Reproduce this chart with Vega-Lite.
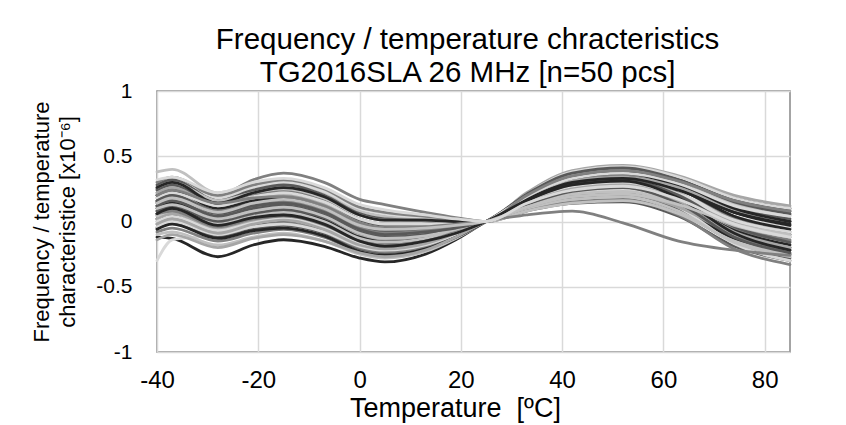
{
"$schema": "https://vega.github.io/schema/vega-lite/v6.json",
"autosize": {"type": "none"},
"width": 633, "height": 261,
"padding": {"left": 157, "top": 91, "right": 56, "bottom": 73},
"background": "white",
"title": {"text": ["Frequency / temperature chracteristics", "TG2016SLA 26 MHz [n=50 pcs]"], "font": "Liberation Sans", "fontSize": 29.5, "fontWeight": "normal", "color": "#000000", "lineHeight": 33, "anchor": "middle", "offset": -8, "dx": -6},
"config": {"view": {"stroke": "#868686", "strokeWidth": 1.5}, "font": "Liberation Sans"},
"datasets": {"curves": [
{"c":1,"t":-40,"v":-0.12},{"c":1,"t":-37,"v":-0.13},{"c":1,"t":-28,"v":-0.27},{"c":1,"t":-21,"v":-0.18},{"c":1,"t":-15,"v":-0.14},{"c":1,"t":-7,"v":-0.19},{"c":1,"t":0,"v":-0.28},{"c":1,"t":5,"v":-0.31},{"c":1,"t":13,"v":-0.25},{"c":1,"t":19,"v":-0.14},{"c":1,"t":25,"v":0},{"c":1,"t":33,"v":0.15},{"c":1,"t":42,"v":0.27},{"c":1,"t":52,"v":0.30},{"c":1,"t":63,"v":0.20},{"c":1,"t":74,"v":0.00},{"c":1,"t":85,"v":-0.10},
{"c":2,"t":-40,"v":0.25},{"c":2,"t":-37,"v":0.28},{"c":2,"t":-28,"v":0.20},{"c":2,"t":-21,"v":0.32},{"c":2,"t":-15,"v":0.37},{"c":2,"t":-7,"v":0.30},{"c":2,"t":0,"v":0.17},{"c":2,"t":5,"v":0.13},{"c":2,"t":13,"v":0.07},{"c":2,"t":19,"v":0.03},{"c":2,"t":25,"v":0},{"c":2,"t":33,"v":0.11},{"c":2,"t":42,"v":0.20},{"c":2,"t":52,"v":0.22},{"c":2,"t":63,"v":0.13},{"c":2,"t":74,"v":-0.06},{"c":2,"t":85,"v":-0.15},
{"c":3,"t":-40,"v":0.38},{"c":3,"t":-37,"v":0.40},{"c":3,"t":-28,"v":0.22},{"c":3,"t":-21,"v":0.28},{"c":3,"t":-15,"v":0.30},{"c":3,"t":-7,"v":0.22},{"c":3,"t":0,"v":0.08},{"c":3,"t":5,"v":0.04},{"c":3,"t":13,"v":0.02},{"c":3,"t":19,"v":0.01},{"c":3,"t":25,"v":0},{"c":3,"t":33,"v":0.18},{"c":3,"t":42,"v":0.32},{"c":3,"t":52,"v":0.35},{"c":3,"t":63,"v":0.28},{"c":3,"t":74,"v":0.13},{"c":3,"t":85,"v":0.05},
{"c":4,"t":-40,"v":-0.30},{"c":4,"t":-37,"v":-0.14},{"c":4,"t":-28,"v":-0.10},{"c":4,"t":-21,"v":-0.02},{"c":4,"t":-15,"v":0.02},{"c":4,"t":-7,"v":-0.04},{"c":4,"t":0,"v":-0.15},{"c":4,"t":5,"v":-0.18},{"c":4,"t":13,"v":-0.15},{"c":4,"t":19,"v":-0.08},{"c":4,"t":25,"v":0},{"c":4,"t":33,"v":0.09},{"c":4,"t":42,"v":0.16},{"c":4,"t":52,"v":0.18},{"c":4,"t":63,"v":0.07},{"c":4,"t":74,"v":-0.14},{"c":4,"t":85,"v":-0.25},
{"c":5,"t":-40,"v":0.12},{"c":5,"t":-37,"v":0.18},{"c":5,"t":-28,"v":0.05},{"c":5,"t":-21,"v":0.14},{"c":5,"t":-15,"v":0.18},{"c":5,"t":-7,"v":0.10},{"c":5,"t":0,"v":-0.04},{"c":5,"t":5,"v":-0.08},{"c":5,"t":13,"v":-0.06},{"c":5,"t":19,"v":-0.04},{"c":5,"t":25,"v":0},{"c":5,"t":33,"v":0.21},{"c":5,"t":42,"v":0.38},{"c":5,"t":52,"v":0.42},{"c":5,"t":63,"v":0.34},{"c":5,"t":74,"v":0.17},{"c":5,"t":85,"v":0.08},
{"c":6,"t":-40,"v":0.05},{"c":6,"t":-37,"v":0.10},{"c":6,"t":-28,"v":-0.02},{"c":6,"t":-21,"v":0.06},{"c":6,"t":-15,"v":0.10},{"c":6,"t":-7,"v":0.03},{"c":6,"t":0,"v":-0.10},{"c":6,"t":5,"v":-0.14},{"c":6,"t":13,"v":-0.11},{"c":6,"t":19,"v":-0.06},{"c":6,"t":25,"v":0},{"c":6,"t":33,"v":0.19},{"c":6,"t":42,"v":0.34},{"c":6,"t":52,"v":0.38},{"c":6,"t":63,"v":0.29},{"c":6,"t":74,"v":0.10},{"c":6,"t":85,"v":0.00},
{"c":7,"t":-40,"v":0.20},{"c":7,"t":-37,"v":0.25},{"c":7,"t":-28,"v":0.12},{"c":7,"t":-21,"v":0.20},{"c":7,"t":-15,"v":0.24},{"c":7,"t":-7,"v":0.16},{"c":7,"t":0,"v":0.02},{"c":7,"t":5,"v":-0.02},{"c":7,"t":13,"v":-0.02},{"c":7,"t":19,"v":-0.01},{"c":7,"t":25,"v":0},{"c":7,"t":33,"v":0.14},{"c":7,"t":42,"v":0.25},{"c":7,"t":52,"v":0.28},{"c":7,"t":63,"v":0.20},{"c":7,"t":74,"v":0.03},{"c":7,"t":85,"v":-0.05},
{"c":8,"t":-40,"v":0.00},{"c":8,"t":-37,"v":0.05},{"c":8,"t":-28,"v":-0.08},{"c":8,"t":-21,"v":0.00},{"c":8,"t":-15,"v":0.03},{"c":8,"t":-7,"v":-0.04},{"c":8,"t":0,"v":-0.17},{"c":8,"t":5,"v":-0.20},{"c":8,"t":13,"v":-0.16},{"c":8,"t":19,"v":-0.09},{"c":8,"t":25,"v":0},{"c":8,"t":33,"v":0.17},{"c":8,"t":42,"v":0.30},{"c":8,"t":52,"v":0.33},{"c":8,"t":63,"v":0.22},{"c":8,"t":74,"v":-0.01},{"c":8,"t":85,"v":-0.12},
{"c":9,"t":-40,"v":0.15},{"c":9,"t":-37,"v":0.20},{"c":9,"t":-28,"v":0.08},{"c":9,"t":-21,"v":0.12},{"c":9,"t":-15,"v":0.14},{"c":9,"t":-7,"v":0.07},{"c":9,"t":0,"v":-0.06},{"c":9,"t":5,"v":-0.10},{"c":9,"t":13,"v":-0.08},{"c":9,"t":19,"v":-0.05},{"c":9,"t":25,"v":0},{"c":9,"t":33,"v":0.20},{"c":9,"t":42,"v":0.36},{"c":9,"t":52,"v":0.40},{"c":9,"t":63,"v":0.33},{"c":9,"t":74,"v":0.18},{"c":9,"t":85,"v":0.10},
{"c":10,"t":-40,"v":0.22},{"c":10,"t":-37,"v":0.26},{"c":10,"t":-28,"v":0.14},{"c":10,"t":-21,"v":0.22},{"c":10,"t":-15,"v":0.26},{"c":10,"t":-7,"v":0.18},{"c":10,"t":0,"v":0.05},{"c":10,"t":5,"v":0.01},{"c":10,"t":13,"v":0.01},{"c":10,"t":19,"v":0.00},{"c":10,"t":25,"v":0},{"c":10,"t":33,"v":0.13},{"c":10,"t":42,"v":0.23},{"c":10,"t":52,"v":0.25},{"c":10,"t":63,"v":0.14},{"c":10,"t":74,"v":-0.09},{"c":10,"t":85,"v":-0.20},
{"c":11,"t":-40,"v":-0.05},{"c":11,"t":-37,"v":0.00},{"c":11,"t":-28,"v":-0.12},{"c":11,"t":-21,"v":-0.06},{"c":11,"t":-15,"v":-0.03},{"c":11,"t":-7,"v":-0.09},{"c":11,"t":0,"v":-0.21},{"c":11,"t":5,"v":-0.24},{"c":11,"t":13,"v":-0.19},{"c":11,"t":19,"v":-0.11},{"c":11,"t":25,"v":0},{"c":11,"t":33,"v":0.10},{"c":11,"t":42,"v":0.18},{"c":11,"t":52,"v":0.20},{"c":11,"t":63,"v":0.08},{"c":11,"t":74,"v":-0.16},{"c":11,"t":85,"v":-0.28},
{"c":12,"t":-40,"v":0.25},{"c":12,"t":-37,"v":0.30},{"c":12,"t":-28,"v":0.18},{"c":12,"t":-21,"v":0.26},{"c":12,"t":-15,"v":0.30},{"c":12,"t":-7,"v":0.23},{"c":12,"t":0,"v":0.10},{"c":12,"t":5,"v":0.06},{"c":12,"t":13,"v":0.03},{"c":12,"t":19,"v":0.02},{"c":12,"t":25,"v":0},{"c":12,"t":33,"v":0.15},{"c":12,"t":42,"v":0.27},{"c":12,"t":52,"v":0.30},{"c":12,"t":63,"v":0.21},{"c":12,"t":74,"v":0.04},{"c":12,"t":85,"v":-0.05},
{"c":13,"t":-40,"v":0.08},{"c":13,"t":-37,"v":0.12},{"c":13,"t":-28,"v":0.00},{"c":13,"t":-21,"v":0.06},{"c":13,"t":-15,"v":0.08},{"c":13,"t":-7,"v":0.01},{"c":13,"t":0,"v":-0.12},{"c":13,"t":5,"v":-0.15},{"c":13,"t":13,"v":-0.12},{"c":13,"t":19,"v":-0.07},{"c":13,"t":25,"v":0},{"c":13,"t":33,"v":0.18},{"c":13,"t":42,"v":0.32},{"c":13,"t":52,"v":0.36},{"c":13,"t":63,"v":0.25},{"c":13,"t":74,"v":0.03},{"c":13,"t":85,"v":-0.08},
{"c":14,"t":-40,"v":0.02},{"c":14,"t":-37,"v":0.05},{"c":14,"t":-28,"v":-0.06},{"c":14,"t":-21,"v":-0.02},{"c":14,"t":-15,"v":0.00},{"c":14,"t":-7,"v":-0.07},{"c":14,"t":0,"v":-0.19},{"c":14,"t":5,"v":-0.22},{"c":14,"t":13,"v":-0.18},{"c":14,"t":19,"v":-0.10},{"c":14,"t":25,"v":0},{"c":14,"t":33,"v":0.13},{"c":14,"t":42,"v":0.23},{"c":14,"t":52,"v":0.26},{"c":14,"t":63,"v":0.15},{"c":14,"t":74,"v":-0.07},{"c":14,"t":85,"v":-0.18},
{"c":15,"t":-40,"v":0.18},{"c":15,"t":-37,"v":0.22},{"c":15,"t":-28,"v":0.10},{"c":15,"t":-21,"v":0.17},{"c":15,"t":-15,"v":0.20},{"c":15,"t":-7,"v":0.13},{"c":15,"t":0,"v":0.00},{"c":15,"t":5,"v":-0.04},{"c":15,"t":13,"v":-0.03},{"c":15,"t":19,"v":-0.02},{"c":15,"t":25,"v":0},{"c":15,"t":33,"v":0.22},{"c":15,"t":42,"v":0.39},{"c":15,"t":52,"v":0.43},{"c":15,"t":63,"v":0.35},{"c":15,"t":74,"v":0.20},{"c":15,"t":85,"v":0.12},
{"c":16,"t":-40,"v":0.28},{"c":16,"t":-37,"v":0.32},{"c":16,"t":-28,"v":0.16},{"c":16,"t":-21,"v":0.24},{"c":16,"t":-15,"v":0.28},{"c":16,"t":-7,"v":0.20},{"c":16,"t":0,"v":0.06},{"c":16,"t":5,"v":0.02},{"c":16,"t":13,"v":0.01},{"c":16,"t":19,"v":0.01},{"c":16,"t":25,"v":0},{"c":16,"t":33,"v":0.08},{"c":16,"t":42,"v":0.14},{"c":16,"t":52,"v":0.15},{"c":16,"t":63,"v":0.04},{"c":16,"t":74,"v":-0.19},{"c":16,"t":85,"v":-0.30},
{"c":17,"t":-40,"v":-0.08},{"c":17,"t":-37,"v":-0.05},{"c":17,"t":-28,"v":-0.15},{"c":17,"t":-21,"v":-0.09},{"c":17,"t":-15,"v":-0.06},{"c":17,"t":-7,"v":-0.12},{"c":17,"t":0,"v":-0.23},{"c":17,"t":5,"v":-0.26},{"c":17,"t":13,"v":-0.21},{"c":17,"t":19,"v":-0.12},{"c":17,"t":25,"v":0},{"c":17,"t":33,"v":0.12},{"c":17,"t":42,"v":0.22},{"c":17,"t":52,"v":0.24},{"c":17,"t":63,"v":0.13},{"c":17,"t":74,"v":-0.11},{"c":17,"t":85,"v":-0.22},
{"c":18,"t":-40,"v":0.10},{"c":18,"t":-37,"v":0.15},{"c":18,"t":-28,"v":0.04},{"c":18,"t":-21,"v":0.10},{"c":18,"t":-15,"v":0.12},{"c":18,"t":-7,"v":0.05},{"c":18,"t":0,"v":-0.08},{"c":18,"t":5,"v":-0.11},{"c":18,"t":13,"v":-0.09},{"c":18,"t":19,"v":-0.05},{"c":18,"t":25,"v":0},{"c":18,"t":33,"v":0.20},{"c":18,"t":42,"v":0.36},{"c":18,"t":52,"v":0.40},{"c":18,"t":63,"v":0.31},{"c":18,"t":74,"v":0.14},{"c":18,"t":85,"v":0.05},
{"c":19,"t":-40,"v":0.06},{"c":19,"t":-37,"v":0.10},{"c":19,"t":-28,"v":-0.02},{"c":19,"t":-21,"v":0.04},{"c":19,"t":-15,"v":0.06},{"c":19,"t":-7,"v":-0.01},{"c":19,"t":0,"v":-0.14},{"c":19,"t":5,"v":-0.17},{"c":19,"t":13,"v":-0.14},{"c":19,"t":19,"v":-0.08},{"c":19,"t":25,"v":0},{"c":19,"t":33,"v":0.11},{"c":19,"t":42,"v":0.20},{"c":19,"t":52,"v":0.22},{"c":19,"t":63,"v":0.10},{"c":19,"t":74,"v":-0.13},{"c":19,"t":85,"v":-0.25},
{"c":20,"t":-40,"v":0.14},{"c":20,"t":-37,"v":0.18},{"c":20,"t":-28,"v":0.06},{"c":20,"t":-21,"v":0.13},{"c":20,"t":-15,"v":0.16},{"c":20,"t":-7,"v":0.09},{"c":20,"t":0,"v":-0.04},{"c":20,"t":5,"v":-0.07},{"c":20,"t":13,"v":-0.06},{"c":20,"t":19,"v":-0.03},{"c":20,"t":25,"v":0},{"c":20,"t":33,"v":0.17},{"c":20,"t":42,"v":0.31},{"c":20,"t":52,"v":0.34},{"c":20,"t":63,"v":0.25},{"c":20,"t":74,"v":0.07},{"c":20,"t":85,"v":-0.02},
{"c":21,"t":-40,"v":0.24},{"c":21,"t":-37,"v":0.28},{"c":21,"t":-28,"v":0.12},{"c":21,"t":-21,"v":0.19},{"c":21,"t":-15,"v":0.22},{"c":21,"t":-7,"v":0.15},{"c":21,"t":0,"v":0.01},{"c":21,"t":5,"v":-0.03},{"c":21,"t":13,"v":-0.02},{"c":21,"t":19,"v":-0.01},{"c":21,"t":25,"v":0},{"c":21,"t":33,"v":0.19},{"c":21,"t":42,"v":0.34},{"c":21,"t":52,"v":0.38},{"c":21,"t":63,"v":0.29},{"c":21,"t":74,"v":0.11},{"c":21,"t":85,"v":0.02},
{"c":22,"t":-40,"v":-0.02},{"c":22,"t":-37,"v":0.03},{"c":22,"t":-28,"v":-0.10},{"c":22,"t":-21,"v":-0.04},{"c":22,"t":-15,"v":-0.01},{"c":22,"t":-7,"v":-0.08},{"c":22,"t":0,"v":-0.20},{"c":22,"t":5,"v":-0.23},{"c":22,"t":13,"v":-0.19},{"c":22,"t":19,"v":-0.10},{"c":22,"t":25,"v":0},{"c":22,"t":33,"v":0.09},{"c":22,"t":42,"v":0.15},{"c":22,"t":52,"v":0.17},{"c":22,"t":63,"v":0.05},{"c":22,"t":74,"v":-0.21},{"c":22,"t":85,"v":-0.33},
{"c":23,"t":-40,"v":0.12},{"c":23,"t":-37,"v":0.16},{"c":23,"t":-28,"v":0.04},{"c":23,"t":-21,"v":0.08},{"c":23,"t":-15,"v":0.10},{"c":23,"t":-7,"v":0.03},{"c":23,"t":0,"v":-0.10},{"c":23,"t":5,"v":-0.13},{"c":23,"t":13,"v":-0.11},{"c":23,"t":19,"v":-0.06},{"c":23,"t":25,"v":0},{"c":23,"t":33,"v":0.14},{"c":23,"t":42,"v":0.25},{"c":23,"t":52,"v":0.28},{"c":23,"t":63,"v":0.19},{"c":23,"t":74,"v":0.00},{"c":23,"t":85,"v":-0.10},
{"c":24,"t":-40,"v":0.20},{"c":24,"t":-37,"v":0.24},{"c":24,"t":-28,"v":0.10},{"c":24,"t":-21,"v":0.16},{"c":24,"t":-15,"v":0.18},{"c":24,"t":-7,"v":0.11},{"c":24,"t":0,"v":-0.02},{"c":24,"t":5,"v":-0.06},{"c":24,"t":13,"v":-0.05},{"c":24,"t":19,"v":-0.03},{"c":24,"t":25,"v":0},{"c":24,"t":33,"v":0.18},{"c":24,"t":42,"v":0.32},{"c":24,"t":52,"v":0.35},{"c":24,"t":63,"v":0.25},{"c":24,"t":74,"v":0.04},{"c":24,"t":85,"v":-0.06},
{"c":25,"t":-40,"v":-0.10},{"c":25,"t":-37,"v":-0.08},{"c":25,"t":-28,"v":-0.18},{"c":25,"t":-21,"v":-0.12},{"c":25,"t":-15,"v":-0.09},{"c":25,"t":-7,"v":-0.15},{"c":25,"t":0,"v":-0.25},{"c":25,"t":5,"v":-0.28},{"c":25,"t":13,"v":-0.23},{"c":25,"t":19,"v":-0.13},{"c":25,"t":25,"v":0},{"c":25,"t":33,"v":0.16},{"c":25,"t":42,"v":0.29},{"c":25,"t":52,"v":0.32},{"c":25,"t":63,"v":0.20},{"c":25,"t":74,"v":-0.03},{"c":25,"t":85,"v":-0.15},
{"c":26,"t":-40,"v":0.05},{"c":26,"t":-37,"v":0.08},{"c":26,"t":-28,"v":-0.04},{"c":26,"t":-21,"v":0.02},{"c":26,"t":-15,"v":0.05},{"c":26,"t":-7,"v":-0.02},{"c":26,"t":0,"v":-0.15},{"c":26,"t":5,"v":-0.18},{"c":26,"t":13,"v":-0.15},{"c":26,"t":19,"v":-0.08},{"c":26,"t":25,"v":0},{"c":26,"t":33,"v":0.21},{"c":26,"t":42,"v":0.38},{"c":26,"t":52,"v":0.42},{"c":26,"t":63,"v":0.34},{"c":26,"t":74,"v":0.18},{"c":26,"t":85,"v":0.10},
{"c":27,"t":-40,"v":0.16},{"c":27,"t":-37,"v":0.20},{"c":27,"t":-28,"v":0.08},{"c":27,"t":-21,"v":0.14},{"c":27,"t":-15,"v":0.16},{"c":27,"t":-7,"v":0.09},{"c":27,"t":0,"v":-0.04},{"c":27,"t":5,"v":-0.08},{"c":27,"t":13,"v":-0.06},{"c":27,"t":19,"v":-0.04},{"c":27,"t":25,"v":0},{"c":27,"t":33,"v":0.10},{"c":27,"t":42,"v":0.18},{"c":27,"t":52,"v":0.20},{"c":27,"t":63,"v":0.10},{"c":27,"t":74,"v":-0.10},{"c":27,"t":85,"v":-0.20},
{"c":28,"t":-40,"v":0.30},{"c":28,"t":-37,"v":0.34},{"c":28,"t":-28,"v":0.20},{"c":28,"t":-21,"v":0.28},{"c":28,"t":-15,"v":0.32},{"c":28,"t":-7,"v":0.25},{"c":28,"t":0,"v":0.11},{"c":28,"t":5,"v":0.07},{"c":28,"t":13,"v":0.04},{"c":28,"t":19,"v":0.02},{"c":28,"t":25,"v":0},{"c":28,"t":33,"v":0.18},{"c":28,"t":42,"v":0.32},{"c":28,"t":52,"v":0.36},{"c":28,"t":63,"v":0.27},{"c":28,"t":74,"v":0.09},{"c":28,"t":85,"v":0.00},
{"c":29,"t":-40,"v":0.02},{"c":29,"t":-37,"v":0.06},{"c":29,"t":-28,"v":-0.06},{"c":29,"t":-21,"v":0.01},{"c":29,"t":-15,"v":0.04},{"c":29,"t":-7,"v":-0.03},{"c":29,"t":0,"v":-0.16},{"c":29,"t":5,"v":-0.19},{"c":29,"t":13,"v":-0.15},{"c":29,"t":19,"v":-0.09},{"c":29,"t":25,"v":0},{"c":29,"t":33,"v":0.15},{"c":29,"t":42,"v":0.27},{"c":29,"t":52,"v":0.30},{"c":29,"t":63,"v":0.20},{"c":29,"t":74,"v":-0.02},{"c":29,"t":85,"v":-0.12},
{"c":30,"t":-40,"v":0.10},{"c":30,"t":-37,"v":0.14},{"c":30,"t":-28,"v":0.02},{"c":30,"t":-21,"v":0.06},{"c":30,"t":-15,"v":0.08},{"c":30,"t":-7,"v":0.01},{"c":30,"t":0,"v":-0.12},{"c":30,"t":5,"v":-0.16},{"c":30,"t":13,"v":-0.13},{"c":30,"t":19,"v":-0.07},{"c":30,"t":25,"v":0},{"c":30,"t":33,"v":0.19},{"c":30,"t":42,"v":0.33},{"c":30,"t":52,"v":0.37},{"c":30,"t":63,"v":0.27},{"c":30,"t":74,"v":0.07},{"c":30,"t":85,"v":-0.03},
{"c":31,"t":-40,"v":0.26},{"c":31,"t":-37,"v":0.30},{"c":31,"t":-28,"v":0.16},{"c":31,"t":-21,"v":0.22},{"c":31,"t":-15,"v":0.25},{"c":31,"t":-7,"v":0.18},{"c":31,"t":0,"v":0.05},{"c":31,"t":5,"v":0.01},{"c":31,"t":13,"v":0.01},{"c":31,"t":19,"v":0.00},{"c":31,"t":25,"v":0},{"c":31,"t":33,"v":0.08},{"c":31,"t":42,"v":0.14},{"c":31,"t":52,"v":0.16},{"c":31,"t":63,"v":0.06},{"c":31,"t":74,"v":-0.15},{"c":31,"t":85,"v":-0.25},
{"c":32,"t":-40,"v":-0.04},{"c":32,"t":-37,"v":0.00},{"c":32,"t":-28,"v":-0.10},{"c":32,"t":-21,"v":-0.04},{"c":32,"t":-15,"v":-0.02},{"c":32,"t":-7,"v":-0.08},{"c":32,"t":0,"v":-0.19},{"c":32,"t":5,"v":-0.22},{"c":32,"t":13,"v":-0.18},{"c":32,"t":19,"v":-0.10},{"c":32,"t":25,"v":0},{"c":32,"t":33,"v":0.12},{"c":32,"t":42,"v":0.22},{"c":32,"t":52,"v":0.24},{"c":32,"t":63,"v":0.11},{"c":32,"t":74,"v":-0.17},{"c":32,"t":85,"v":-0.30},
{"c":33,"t":-40,"v":0.08},{"c":33,"t":-37,"v":0.12},{"c":33,"t":-28,"v":0.00},{"c":33,"t":-21,"v":0.06},{"c":33,"t":-15,"v":0.09},{"c":33,"t":-7,"v":0.03},{"c":33,"t":0,"v":-0.09},{"c":33,"t":5,"v":-0.12},{"c":33,"t":13,"v":-0.10},{"c":33,"t":19,"v":-0.05},{"c":33,"t":25,"v":0},{"c":33,"t":33,"v":0.21},{"c":33,"t":42,"v":0.37},{"c":33,"t":52,"v":0.41},{"c":33,"t":63,"v":0.32},{"c":33,"t":74,"v":0.15},{"c":33,"t":85,"v":0.06},
{"c":34,"t":-40,"v":0.14},{"c":34,"t":-37,"v":0.18},{"c":34,"t":-28,"v":0.08},{"c":34,"t":-21,"v":0.13},{"c":34,"t":-15,"v":0.15},{"c":34,"t":-7,"v":0.08},{"c":34,"t":0,"v":-0.05},{"c":34,"t":5,"v":-0.09},{"c":34,"t":13,"v":-0.07},{"c":34,"t":19,"v":-0.04},{"c":34,"t":25,"v":0},{"c":34,"t":33,"v":0.14},{"c":34,"t":42,"v":0.24},{"c":34,"t":52,"v":0.27},{"c":34,"t":63,"v":0.17},{"c":34,"t":74,"v":-0.04},{"c":34,"t":85,"v":-0.14},
{"c":35,"t":-40,"v":0.22},{"c":35,"t":-37,"v":0.26},{"c":35,"t":-28,"v":0.12},{"c":35,"t":-21,"v":0.18},{"c":35,"t":-15,"v":0.20},{"c":35,"t":-7,"v":0.13},{"c":35,"t":0,"v":-0.01},{"c":35,"t":5,"v":-0.05},{"c":35,"t":13,"v":-0.04},{"c":35,"t":19,"v":-0.02},{"c":35,"t":25,"v":0},{"c":35,"t":33,"v":0.17},{"c":35,"t":42,"v":0.31},{"c":35,"t":52,"v":0.34},{"c":35,"t":63,"v":0.26},{"c":35,"t":74,"v":0.09},{"c":35,"t":85,"v":0.00},
{"c":36,"t":-40,"v":-0.06},{"c":36,"t":-37,"v":-0.02},{"c":36,"t":-28,"v":-0.13},{"c":36,"t":-21,"v":-0.07},{"c":36,"t":-15,"v":-0.05},{"c":36,"t":-7,"v":-0.11},{"c":36,"t":0,"v":-0.23},{"c":36,"t":5,"v":-0.26},{"c":36,"t":13,"v":-0.21},{"c":36,"t":19,"v":-0.12},{"c":36,"t":25,"v":0},{"c":36,"t":33,"v":0.19},{"c":36,"t":42,"v":0.34},{"c":36,"t":52,"v":0.38},{"c":36,"t":63,"v":0.29},{"c":36,"t":74,"v":0.10},{"c":36,"t":85,"v":0.00},
{"c":37,"t":-40,"v":0.04},{"c":37,"t":-37,"v":0.08},{"c":37,"t":-28,"v":-0.02},{"c":37,"t":-21,"v":0.04},{"c":37,"t":-15,"v":0.07},{"c":37,"t":-7,"v":0.00},{"c":37,"t":0,"v":-0.13},{"c":37,"t":5,"v":-0.16},{"c":37,"t":13,"v":-0.13},{"c":37,"t":19,"v":-0.07},{"c":37,"t":25,"v":0},{"c":37,"t":33,"v":0.10},{"c":37,"t":42,"v":0.17},{"c":37,"t":52,"v":0.19},{"c":37,"t":63,"v":0.08},{"c":37,"t":74,"v":-0.16},{"c":37,"t":85,"v":-0.27},
{"c":38,"t":-40,"v":0.18},{"c":38,"t":-37,"v":0.22},{"c":38,"t":-28,"v":0.12},{"c":38,"t":-21,"v":0.19},{"c":38,"t":-15,"v":0.22},{"c":38,"t":-7,"v":0.15},{"c":38,"t":0,"v":0.02},{"c":38,"t":5,"v":-0.02},{"c":38,"t":13,"v":-0.02},{"c":38,"t":19,"v":-0.01},{"c":38,"t":25,"v":0},{"c":38,"t":33,"v":0.15},{"c":38,"t":42,"v":0.26},{"c":38,"t":52,"v":0.29},{"c":38,"t":63,"v":0.20},{"c":38,"t":74,"v":0.01},{"c":38,"t":85,"v":-0.08},
{"c":39,"t":-40,"v":0.12},{"c":39,"t":-37,"v":0.16},{"c":39,"t":-28,"v":0.04},{"c":39,"t":-21,"v":0.10},{"c":39,"t":-15,"v":0.12},{"c":39,"t":-7,"v":0.05},{"c":39,"t":0,"v":-0.08},{"c":39,"t":5,"v":-0.12},{"c":39,"t":13,"v":-0.10},{"c":39,"t":19,"v":-0.05},{"c":39,"t":25,"v":0},{"c":39,"t":33,"v":0.16},{"c":39,"t":42,"v":0.29},{"c":39,"t":52,"v":0.32},{"c":39,"t":63,"v":0.20},{"c":39,"t":74,"v":-0.04},{"c":39,"t":85,"v":-0.16},
{"c":40,"t":-40,"v":0.06},{"c":40,"t":-37,"v":0.08},{"c":40,"t":-28,"v":-0.04},{"c":40,"t":-21,"v":0.02},{"c":40,"t":-15,"v":0.04},{"c":40,"t":-7,"v":-0.03},{"c":40,"t":0,"v":-0.15},{"c":40,"t":5,"v":-0.18},{"c":40,"t":13,"v":-0.15},{"c":40,"t":19,"v":-0.08},{"c":40,"t":25,"v":0},{"c":40,"t":33,"v":0.05},{"c":40,"t":42,"v":0.08},{"c":40,"t":52,"v":-0.01},{"c":40,"t":63,"v":-0.15},{"c":40,"t":74,"v":-0.22},{"c":40,"t":85,"v":-0.26},
{"c":41,"t":-40,"v":-0.14},{"c":41,"t":-37,"v":-0.10},{"c":41,"t":-28,"v":-0.20},{"c":41,"t":-21,"v":-0.13},{"c":41,"t":-15,"v":-0.10},{"c":41,"t":-7,"v":-0.15},{"c":41,"t":0,"v":-0.24},{"c":41,"t":5,"v":-0.27},{"c":41,"t":13,"v":-0.22},{"c":41,"t":19,"v":-0.12},{"c":41,"t":25,"v":0},{"c":41,"t":33,"v":0.11},{"c":41,"t":42,"v":0.19},{"c":41,"t":52,"v":0.21},{"c":41,"t":63,"v":0.11},{"c":41,"t":74,"v":-0.10},{"c":41,"t":85,"v":-0.20},
{"c":42,"t":-40,"v":0.26},{"c":42,"t":-37,"v":0.30},{"c":42,"t":-28,"v":0.14},{"c":42,"t":-21,"v":0.22},{"c":42,"t":-15,"v":0.26},{"c":42,"t":-7,"v":0.19},{"c":42,"t":0,"v":0.05},{"c":42,"t":5,"v":0.01},{"c":42,"t":13,"v":0.01},{"c":42,"t":19,"v":0.00},{"c":42,"t":25,"v":0},{"c":42,"t":33,"v":0.17},{"c":42,"t":42,"v":0.30},{"c":42,"t":52,"v":0.33},{"c":42,"t":63,"v":0.24},{"c":42,"t":74,"v":0.07},{"c":42,"t":85,"v":-0.02},
{"c":43,"t":-40,"v":0.10},{"c":43,"t":-37,"v":0.13},{"c":43,"t":-28,"v":0.02},{"c":43,"t":-21,"v":0.08},{"c":43,"t":-15,"v":0.11},{"c":43,"t":-7,"v":0.04},{"c":43,"t":0,"v":-0.09},{"c":43,"t":5,"v":-0.13},{"c":43,"t":13,"v":-0.11},{"c":43,"t":19,"v":-0.06},{"c":43,"t":25,"v":0},{"c":43,"t":33,"v":0.12},{"c":43,"t":42,"v":0.21},{"c":43,"t":52,"v":0.23},{"c":43,"t":63,"v":0.14},{"c":43,"t":74,"v":-0.03},{"c":43,"t":85,"v":-0.12},
{"c":44,"t":-40,"v":0.00},{"c":44,"t":-37,"v":0.04},{"c":44,"t":-28,"v":-0.07},{"c":44,"t":-21,"v":-0.01},{"c":44,"t":-15,"v":0.02},{"c":44,"t":-7,"v":-0.05},{"c":44,"t":0,"v":-0.17},{"c":44,"t":5,"v":-0.20},{"c":44,"t":13,"v":-0.16},{"c":44,"t":19,"v":-0.09},{"c":44,"t":25,"v":0},{"c":44,"t":33,"v":0.19},{"c":44,"t":42,"v":0.33},{"c":44,"t":52,"v":0.37},{"c":44,"t":63,"v":0.29},{"c":44,"t":74,"v":0.12},{"c":44,"t":85,"v":0.04},
{"c":45,"t":-40,"v":0.16},{"c":45,"t":-37,"v":0.20},{"c":45,"t":-28,"v":0.06},{"c":45,"t":-21,"v":0.12},{"c":45,"t":-15,"v":0.14},{"c":45,"t":-7,"v":0.07},{"c":45,"t":0,"v":-0.06},{"c":45,"t":5,"v":-0.10},{"c":45,"t":13,"v":-0.08},{"c":45,"t":19,"v":-0.05},{"c":45,"t":25,"v":0},{"c":45,"t":33,"v":0.13},{"c":45,"t":42,"v":0.23},{"c":45,"t":52,"v":0.26},{"c":45,"t":63,"v":0.14},{"c":45,"t":74,"v":-0.12},{"c":45,"t":85,"v":-0.24},
{"c":46,"t":-40,"v":0.20},{"c":46,"t":-37,"v":0.24},{"c":46,"t":-28,"v":0.14},{"c":46,"t":-21,"v":0.18},{"c":46,"t":-15,"v":0.19},{"c":46,"t":-7,"v":0.12},{"c":46,"t":0,"v":-0.01},{"c":46,"t":5,"v":-0.05},{"c":46,"t":13,"v":-0.04},{"c":46,"t":19,"v":-0.02},{"c":46,"t":25,"v":0},{"c":46,"t":33,"v":0.20},{"c":46,"t":42,"v":0.35},{"c":46,"t":52,"v":0.39},{"c":46,"t":63,"v":0.31},{"c":46,"t":74,"v":0.16},{"c":46,"t":85,"v":0.08},
{"c":47,"t":-40,"v":-0.02},{"c":47,"t":-37,"v":0.02},{"c":47,"t":-28,"v":-0.09},{"c":47,"t":-21,"v":-0.02},{"c":47,"t":-15,"v":0.01},{"c":47,"t":-7,"v":-0.06},{"c":47,"t":0,"v":-0.18},{"c":47,"t":5,"v":-0.21},{"c":47,"t":13,"v":-0.17},{"c":47,"t":19,"v":-0.09},{"c":47,"t":25,"v":0},{"c":47,"t":33,"v":0.14},{"c":47,"t":42,"v":0.25},{"c":47,"t":52,"v":0.28},{"c":47,"t":63,"v":0.16},{"c":47,"t":74,"v":-0.08},{"c":47,"t":85,"v":-0.20},
{"c":48,"t":-40,"v":0.06},{"c":48,"t":-37,"v":0.10},{"c":48,"t":-28,"v":-0.03},{"c":48,"t":-21,"v":0.03},{"c":48,"t":-15,"v":0.05},{"c":48,"t":-7,"v":-0.02},{"c":48,"t":0,"v":-0.15},{"c":48,"t":5,"v":-0.19},{"c":48,"t":13,"v":-0.15},{"c":48,"t":19,"v":-0.09},{"c":48,"t":25,"v":0},{"c":48,"t":33,"v":0.16},{"c":48,"t":42,"v":0.28},{"c":48,"t":52,"v":0.31},{"c":48,"t":63,"v":0.18},{"c":48,"t":74,"v":-0.09},{"c":48,"t":85,"v":-0.22},
{"c":49,"t":-40,"v":0.14},{"c":49,"t":-37,"v":0.18},{"c":49,"t":-28,"v":0.07},{"c":49,"t":-21,"v":0.14},{"c":49,"t":-15,"v":0.17},{"c":49,"t":-7,"v":0.10},{"c":49,"t":0,"v":-0.03},{"c":49,"t":5,"v":-0.06},{"c":49,"t":13,"v":-0.05},{"c":49,"t":19,"v":-0.03},{"c":49,"t":25,"v":0},{"c":49,"t":33,"v":0.11},{"c":49,"t":42,"v":0.19},{"c":49,"t":52,"v":0.21},{"c":49,"t":63,"v":0.13},{"c":49,"t":74,"v":-0.02},{"c":49,"t":85,"v":-0.10},
{"c":50,"t":-40,"v":0.32},{"c":50,"t":-37,"v":0.34},{"c":50,"t":-28,"v":0.22},{"c":50,"t":-21,"v":0.30},{"c":50,"t":-15,"v":0.33},{"c":50,"t":-7,"v":0.26},{"c":50,"t":0,"v":0.13},{"c":50,"t":5,"v":0.09},{"c":50,"t":13,"v":0.05},{"c":50,"t":19,"v":0.02},{"c":50,"t":25,"v":0},{"c":50,"t":33,"v":0.14},{"c":50,"t":42,"v":0.24},{"c":50,"t":52,"v":0.27},{"c":50,"t":63,"v":0.17},{"c":50,"t":74,"v":-0.02},{"c":50,"t":85,"v":-0.12}
]},
"data": {"name": "curves"},
"mark": {"type": "line", "interpolate": "monotone", "strokeWidth": 2.8, "strokeCap": "round", "strokeJoin": "round"},
"encoding": {
  "x": {"field": "t", "type": "quantitative", "scale": {"domain": [-40, 85], "nice": false, "zero": false},
        "axis": {"values": [-40, -20, 0, 20, 40, 60, 80], "title": "Temperature \u00a0[ºC]", "titleFont": "Liberation Sans", "titleFontSize": 27, "titleFontWeight": "normal", "titleColor": "#000000", "titlePadding": 3, "titleX": 298, "titleAlign": "center", "labelFont": "Liberation Sans", "labelFontSize": 24, "labelColor": "#000000", "labelPadding": 16, "labelExpr": "'' + datum.value", "ticks": false, "tickSize": 0, "domain": false, "grid": true, "gridColor": "#d9d9d9", "gridWidth": 1.5, "labelFlush": false, "labelOverlap": false}},
  "y": {"field": "v", "type": "quantitative", "scale": {"domain": [-1, 1], "nice": false},
        "axis": {"values": [-1, -0.5, 0, 0.5, 1], "title": ["Frequency / temperature", "characteristice [x10⁻⁶]"], "titleFont": "Liberation Sans", "titleFontSize": 22, "titleFontWeight": "normal", "titleColor": "#000000", "titleLineHeight": 26, "titlePadding": 16, "labelFont": "Liberation Sans", "labelFontSize": 21, "labelColor": "#000000", "labelPadding": 25, "labelExpr": "'' + datum.value", "ticks": false, "tickSize": 0, "domain": false, "grid": true, "gridColor": "#d9d9d9", "gridWidth": 1.5, "labelFlush": false, "labelOverlap": false}},
  "color": {"field": "c", "type": "nominal", "legend": null,
            "scale": {"domain": [1,2,3,4,5,6,7,8,9,10,11,12,13,14,15,16,17,18,19,20,21,22,23,24,25,26,27,28,29,30,31,32,33,34,35,36,37,38,39,40,41,42,43,44,45,46,47,48,49,50],
                      "range": ["#262626","#808080","#c0c0c0","#d9d9d9","#262626","#595959","#808080","#a6a6a6","#262626","#c0c0c0","#595959","#d9d9d9","#808080","#262626","#a6a6a6","#595959","#808080","#c0c0c0","#262626","#d9d9d9","#595959","#808080","#a6a6a6","#262626","#c0c0c0","#d9d9d9","#595959","#808080","#a6a6a6","#262626","#c0c0c0","#d9d9d9","#595959","#808080","#a6a6a6","#262626","#c0c0c0","#d9d9d9","#595959","#808080","#a6a6a6","#262626","#c0c0c0","#d9d9d9","#595959","#808080","#a6a6a6","#262626","#c0c0c0","#d9d9d9"]}}
}
}
